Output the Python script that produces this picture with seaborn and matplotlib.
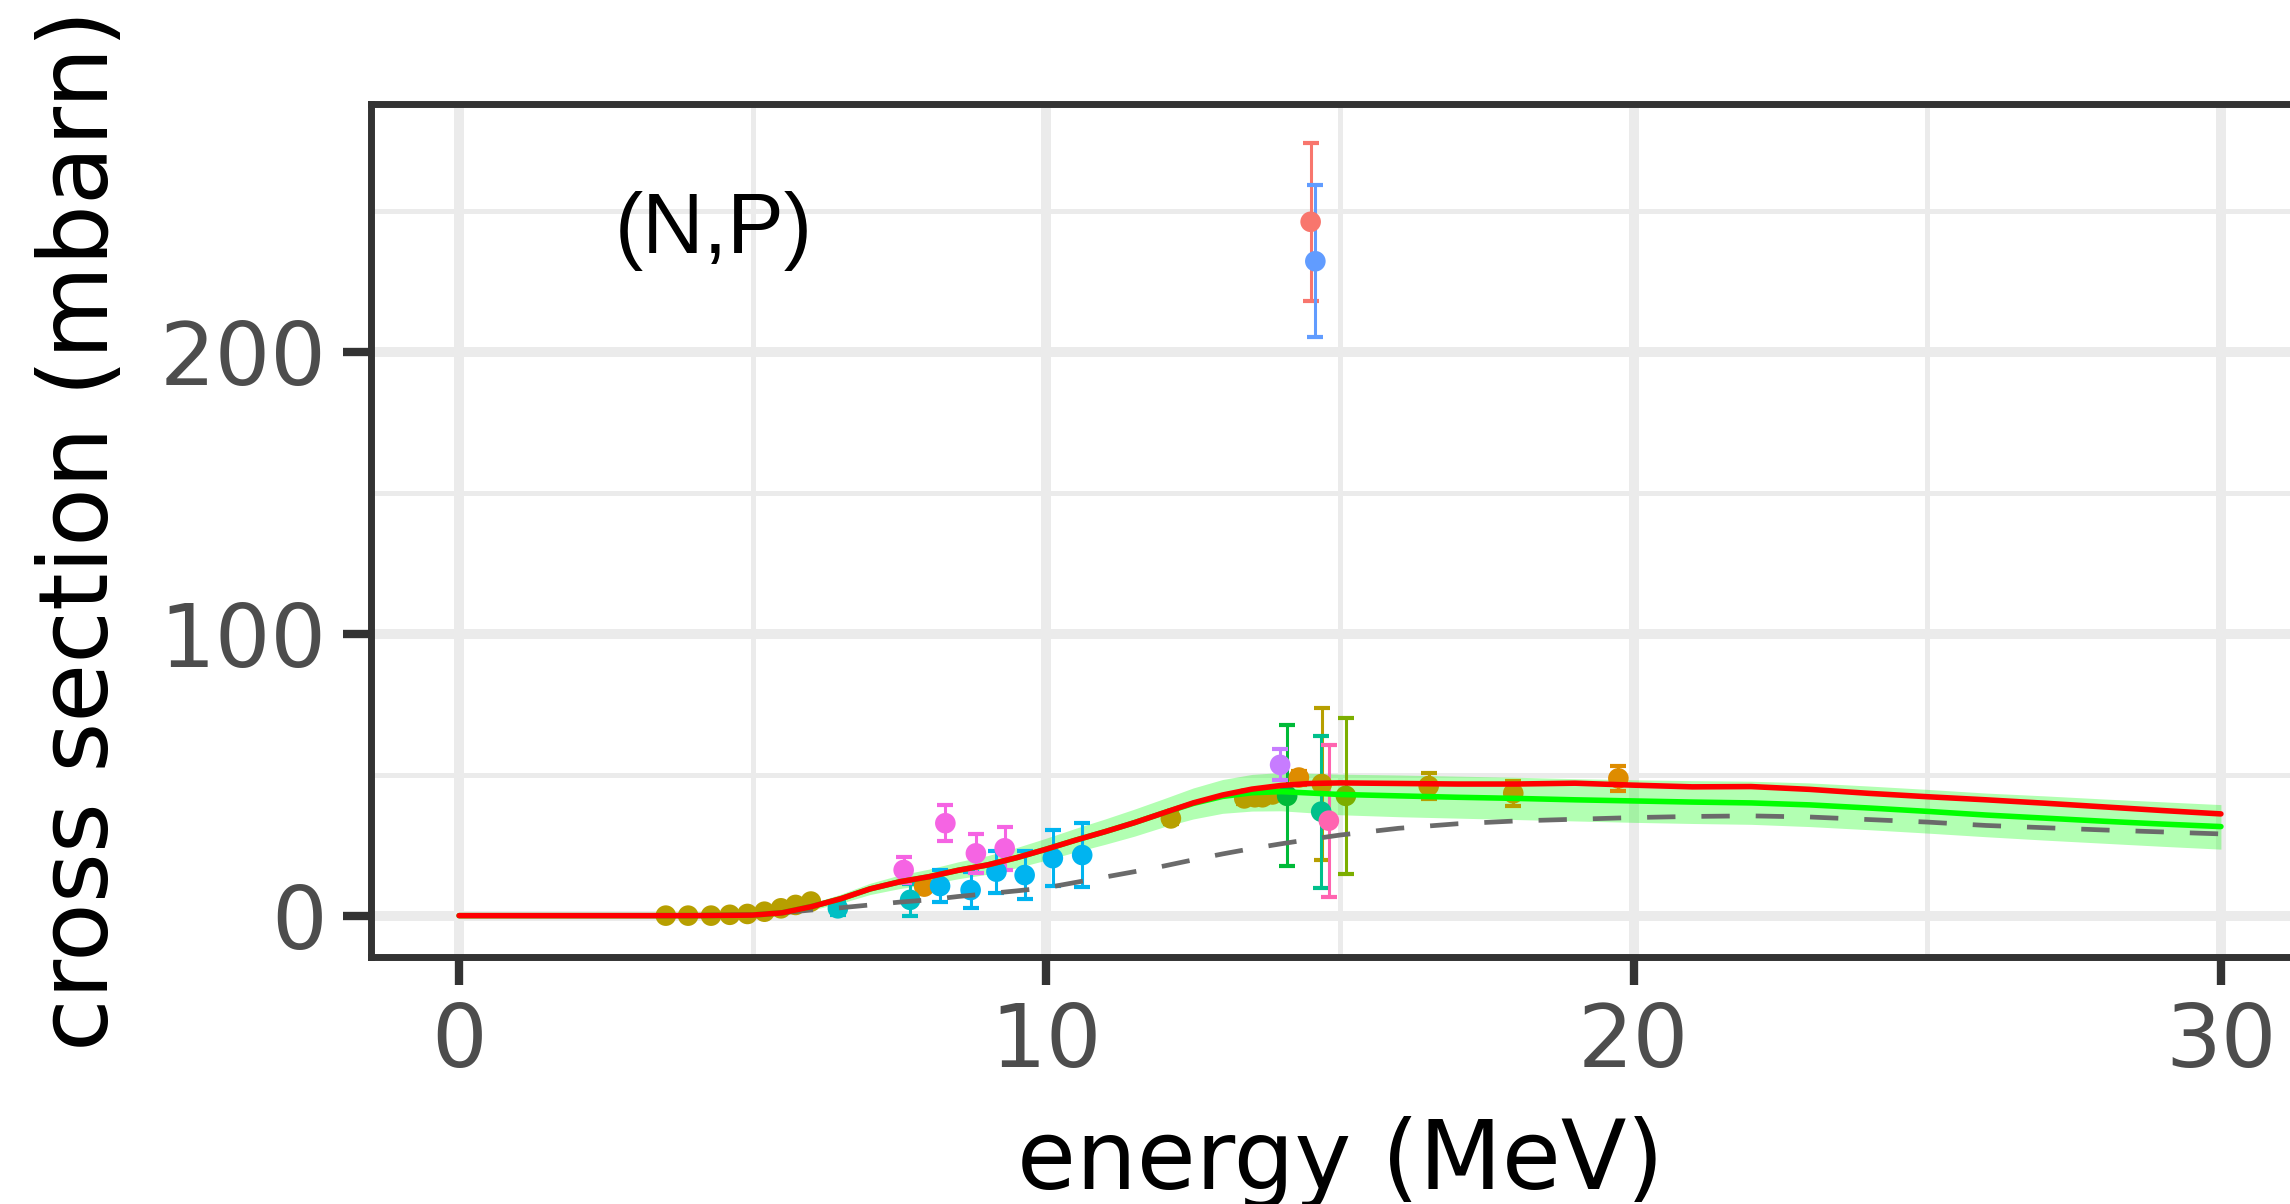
import numpy as np
import pandas as pd
import matplotlib
matplotlib.use("Agg")
import matplotlib.pyplot as plt
import seaborn as sns

# ---- measured cross sections: (energy MeV, sigma mbarn, uncertainty) per data set ----
set_names = ["s01", "s02", "s03", "s04", "s05", "s06",
             "s07", "s08", "s09", "s10", "s11", "s12"]
set_colors = ["#F8766D", "#DE8C00", "#B79F00", "#7CAE00", "#00BA38", "#00C08B",
              "#00BFC4", "#00B4F0", "#619CFF", "#C77CFF", "#F564E3", "#FF64B0"]

s01_e = [14.50]
s01_xs = [246.2]
s01_err = [28.0]

s02_e = [7.92, 14.30, 19.74]
s02_xs = [10.3, 49.0, 48.7]
s02_err = [1.5, 2.5, 4.5]

s03_e = [3.52, 3.90, 4.29, 4.61, 4.91, 5.20, 5.48, 5.73, 5.99,
         12.12, 13.37, 13.55, 13.68, 13.85, 14.69, 16.51, 17.95]
s03_xs = [0.0, 0.0, 0.0, 0.3, 0.6, 1.4, 2.6, 3.8, 5.0,
          34.5, 41.6, 42.0, 42.0, 43.0, 46.7, 46.0, 43.4]
s03_err = [0.8, 0.8, 0.8, 0.8, 0.8, 0.8, 0.8, 0.8, 0.8,
           2.0, 2.0, 2.0, 2.0, 2.0, 27.0, 4.5, 4.5]

s04_e = [15.10]
s04_xs = [42.5]
s04_err = [27.7]

s05_e = [14.10]
s05_xs = [42.5]
s05_err = [25.0]

s06_e = [14.68]
s06_xs = [36.9]
s06_err = [27.0]

s07_e = [6.45, 7.68]
s07_xs = [2.6, 5.6]
s07_err = [2.5, 5.7]

s08_e = [8.19, 8.71, 9.15, 9.63, 10.11, 10.61]
s08_xs = [10.5, 9.1, 15.6, 14.4, 20.4, 21.5]
s08_err = [5.8, 6.5, 7.4, 8.6, 10.0, 11.5]

s09_e = [14.58]
s09_xs = [232.2]
s09_err = [27.0]

s10_e = [13.98]
s10_xs = [53.5]
s10_err = [5.5]

s11_e = [7.57, 8.28, 8.80, 9.29]
s11_xs = [16.2, 32.8, 22.1, 23.9]
s11_err = [4.7, 6.3, 6.8, 7.7]

s12_e = [14.81]
s12_xs = [33.7]
s12_err = [27.0]

# ---- model curves on a common energy grid ----
grid_e = [0, 1, 2, 3, 4, 5, 5.5, 6, 6.5, 7, 7.5, 8, 8.5, 9, 9.5, 10, 10.5, 11,
          11.5, 12, 12.5, 13, 13.5, 14, 14.5, 15, 16, 17, 18, 19, 20, 21, 22,
          23, 24, 25, 26, 27, 28, 29, 30]
eval_xs = [0, 0, 0, 0, 0, 0.2, 1.0, 3.2, 6.0, 9.5, 12.0, 13.8, 16.1, 18.0, 20.6,
           23.6, 26.8, 29.8, 33.0, 36.5, 40.0, 42.8, 44.9, 46.2, 46.9, 47.1,
           46.9, 46.7, 46.7, 47.0, 46.3, 45.7, 45.8, 44.8, 43.4, 42.2, 41.1,
           39.9, 38.6, 37.3, 36.1]
fit_xs = [0, 0, 0, 0, 0, 0.2, 1.0, 3.2, 6.0, 9.5, 12.0, 13.8, 16.1, 18.0, 20.6,
          23.6, 26.8, 29.8, 33.0, 36.5, 39.8, 42.3, 43.6, 44.0, 43.5, 43.0,
          42.5, 42.0, 41.6, 41.1, 40.7, 40.3, 40.0, 39.3, 38.2, 37.0, 35.7,
          34.6, 33.5, 32.5, 31.6]
fit_lo = [-0.2, -0.2, -0.2, -0.2, -0.2, -0.3, 0.2, 2.0, 4.4, 7.5, 9.6, 11.1,
          13.1, 14.7, 17.0, 19.7, 22.6, 25.3, 28.2, 31.5, 34.3, 36.3, 37.1,
          37.2, 36.5, 35.8, 35.1, 34.6, 34.1, 33.6, 33.1, 32.7, 32.4, 31.6,
          30.5, 29.3, 28.0, 26.8, 25.7, 24.6, 23.6]
fit_hi = [0.2, 0.2, 0.2, 0.2, 0.2, 0.7, 1.8, 4.4, 7.6, 11.5, 14.4, 16.5, 19.1,
          21.3, 24.2, 27.5, 31.0, 34.3, 37.8, 41.5, 45.3, 48.3, 50.1, 50.8,
          50.5, 50.2, 49.9, 49.5, 49.1, 48.6, 48.2, 47.9, 47.7, 47.1, 46.0,
          44.8, 43.5, 42.5, 41.4, 40.4, 39.4]
ref_xs = [0, 0, 0, 0, 0, 0.3, 1.0, 2.0, 2.8, 3.8, 4.8, 5.6, 6.8, 7.8, 8.8, 9.9,
          11.8, 13.7, 15.6, 17.6, 19.8, 21.9, 23.8, 25.5, 27.1, 28.6, 31.0,
          32.6, 33.6, 34.2, 34.8, 35.2, 35.4, 35.0, 34.1, 33.2, 32.0, 31.2,
          30.4, 29.7, 29.0]

x_ticks = [0, 10, 20, 30]
y_ticks = [0, 100, 200]
x_minor = [5, 15, 25]
y_minor = [50, 150, 250]

# ---- assemble tables ----
set_data = {
    "s01": (s01_e, s01_xs, s01_err), "s02": (s02_e, s02_xs, s02_err),
    "s03": (s03_e, s03_xs, s03_err), "s04": (s04_e, s04_xs, s04_err),
    "s05": (s05_e, s05_xs, s05_err), "s06": (s06_e, s06_xs, s06_err),
    "s07": (s07_e, s07_xs, s07_err), "s08": (s08_e, s08_xs, s08_err),
    "s09": (s09_e, s09_xs, s09_err), "s10": (s10_e, s10_xs, s10_err),
    "s11": (s11_e, s11_xs, s11_err), "s12": (s12_e, s12_xs, s12_err),
}
rows = []
for name in set_names:
    e, xs, err = set_data[name]
    for a, b, c in zip(e, xs, err):
        rows.append({"energy": a, "xs": b, "err": c, "set": name})
points = pd.DataFrame(rows)
curves = pd.DataFrame({"energy": grid_e, "eval": eval_xs, "fit": fit_xs,
                       "lo": fit_lo, "hi": fit_hi, "ref": ref_xs})
palette = dict(zip(set_names, set_colors))

# ---- figure ----
sns.set_style("white")
plt.rcParams["font.family"] = ["DejaVu Sans"]

fig = plt.figure(figsize=(22.9, 12.04), dpi=100)
ax = fig.add_axes([0.16201, 0.20556, 0.84629, 0.70806])

ax.set_xlim(-1.5, 31.5)
ax.set_ylim(-14.5, 288)
ax.set_xticks(x_ticks)
ax.set_yticks(y_ticks)
ax.set_xticks(x_minor, minor=True)
ax.set_yticks(y_minor, minor=True)
ax.grid(True, which="major", color="#EBEBEB", linewidth=7.2, zorder=0)
ax.grid(True, which="minor", color="#EBEBEB", linewidth=3.6, zorder=0)
ax.set_axisbelow(True)

# uncertainty band of the fit
ax.fill_between(curves["energy"], curves["lo"], curves["hi"],
                color="#00FF00", alpha=0.3, linewidth=0, zorder=1)

# measured points with error bars
for name in set_names:
    sub = points[points["set"] == name]
    ax.errorbar(sub["energy"], sub["xs"], yerr=sub["err"], fmt="none",
                ecolor=palette[name], elinewidth=2.2, capsize=6,
                capthick=3.0, zorder=2)
sns.scatterplot(data=points, x="energy", y="xs", hue="set", palette=palette,
                s=220, edgecolor="none", legend=False, ax=ax, zorder=3)

# model curves
sns.lineplot(data=curves, x="energy", y="ref", color="#6A6A6A", linewidth=3.4,
             linestyle=(0, (6, 5.5)), ax=ax, zorder=4)
sns.lineplot(data=curves, x="energy", y="fit", color="#00FF00", linewidth=4.0,
             ax=ax, zorder=5)
sns.lineplot(data=curves, x="energy", y="eval", color="#FF0000", linewidth=4.0,
             ax=ax, zorder=6)

ax.text(4.34, 235.2, "(N,P)", fontsize=61, ha="center", va="baseline",
        family=["Liberation Sans", "DejaVu Sans"], color="black", zorder=7)

for side in ["left", "bottom", "top", "right"]:
    ax.spines[side].set_color("#333333")
    ax.spines[side].set_linewidth(5)
ax.tick_params(axis="both", which="major", direction="out", length=20,
               width=6, color="#333333", labelsize=63, labelcolor="#4D4D4D",
               pad=12, bottom=True, left=True)
ax.tick_params(axis="both", which="minor", length=0)

ax.set_xlabel("energy (MeV)", fontsize=69, color="black", labelpad=22)
ax.set_ylabel("cross section (mbarn)", fontsize=69, color="black", labelpad=23)

fig.savefig("out.png", dpi=100, facecolor="white")
